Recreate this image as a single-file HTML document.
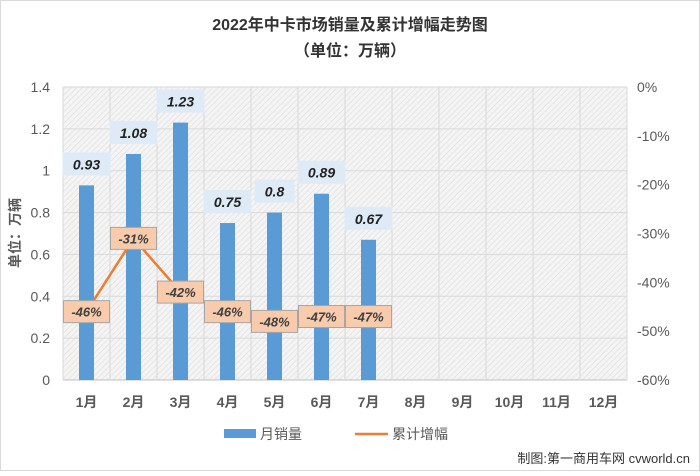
<!DOCTYPE html>
<html><head><meta charset="utf-8"><style>
body{margin:0;background:#fff;}
svg text{font-family:"Liberation Sans","Noto Sans CJK SC",sans-serif;}
</style></head><body>
<svg id="c" width="700" height="471" viewBox="0 0 700 471">
<defs>
<pattern id="hatch" width="4" height="4" patternUnits="userSpaceOnUse" patternTransform="rotate(45)">
<rect width="4" height="4" fill="#f4f4f4"/><line x1="0" y1="0" x2="0" y2="4" stroke="#dcdcdc" stroke-width="1.2"/>
</pattern>
</defs>
<rect x="0.5" y="0.5" width="699" height="470" fill="#fff" stroke="#d9d9d9"/>
<text x="350" y="30" text-anchor="middle" font-size="16" font-weight="bold" fill="#333">2022年中卡市场销量及累计增幅走势图</text>
<text x="350" y="56" text-anchor="middle" font-size="16" font-weight="bold" fill="#333">（单位：万辆）</text>
<rect x="63" y="87" width="564" height="293" fill="url(#hatch)"/>
<g id="grid"></g><g id="bars"></g><g id="line"></g><g id="labels"></g><g id="axes"></g>
<text transform="translate(20,233) rotate(-90)" text-anchor="middle" font-size="14" font-weight="bold" fill="#595959">单位：万辆</text>
<rect x="224" y="429" width="32" height="9" fill="#5b9bd5"/>
<text x="260" y="439" font-size="14" fill="#595959">月销量</text>
<line x1="355" y1="434" x2="388" y2="434" stroke="#ed7d31" stroke-width="2.5"/>
<text x="392" y="439" font-size="14" fill="#595959">累计增幅</text>
<text x="690" y="463" text-anchor="end" font-size="13" fill="#333">制图:第一商用车网 cvworld.cn</text>
</svg>
<script>
const categories=["1月","2月","3月","4月","5月","6月","7月","8月","9月","10月","11月","12月"];
const sales=[0.93,1.08,1.23,0.75,0.8,0.89,0.67];
const growth=[-46,-31,-42,-46,-48,-47,-47];
const leftTicks=[0,0.2,0.4,0.6,0.8,1,1.2,1.4];
const rightTicks=[0,-10,-20,-30,-40,-50,-60];
const NS="http://www.w3.org/2000/svg";
const X0=63,X1=627,Y0=380,Y1=87;
const bw=(X1-X0)/categories.length;
const xc=i=>X0+bw*(i+0.5);
const yL=v=>Y0-(v/1.4)*(Y0-Y1);
const yR=v=>Y1+(-v/60)*(Y0-Y1);
function mk(tag,attrs,parent,text){const e=document.createElementNS(NS,tag);for(const k in attrs)e.setAttribute(k,attrs[k]);if(text!==undefined)e.textContent=text;document.getElementById(parent).appendChild(e);return e;}
leftTicks.forEach(t=>{
 const g=mk('line',{x1:X0,x2:X1,y1:yL(t),y2:yL(t),stroke:t===0?'#bfbfbf':'#d9d9d9','stroke-width':1},'grid');
 
 
 const l=mk('text',{x:X0-13,y:yL(t)+5,'text-anchor':'end','font-size':14,fill:'#595959'},'axes',String(t));
 
 
});
for(let i=0;i<=categories.length;i++){
 const v=mk('line',{x1:X0+bw*i,x2:X0+bw*i,y1:Y1,y2:Y0,stroke:'#d9d9d9'},'grid');
 
 
}
rightTicks.forEach(t=>{
 const l=mk('text',{x:X1+10,y:yR(t)+5,'font-size':14,fill:'#595959'},'axes',t+'%');
 
 
});
categories.forEach((c,i)=>{
 const l=mk('text',{x:xc(i),y:407,'text-anchor':'middle','font-size':14,'font-weight':'bold',fill:'#595959'},'axes',c);
 
 
});
sales.forEach((v,i)=>{
 const b=mk('rect',{x:xc(i)-7.5,y:yL(v),width:15,height:Y0-yL(v),fill:'#5b9bd5'},'bars');
 
 
 const s=String(v);const w=s.length*8+16;
 const bg=mk('rect',{x:xc(i)-w/2,y:yL(v)-33,width:w,height:23,fill:'#deebf7'},'labels');
 
 
 const t=mk('text',{x:xc(i),y:yL(v)-16,'text-anchor':'middle','font-size':14,'font-weight':'bold','font-style':'italic',fill:'#222'},'labels',s);
 
 
});
const pts=growth.map((g,i)=>xc(i)+','+yR(g)).join(' ');
const pl=mk('polyline',{points:pts,fill:'none',stroke:'#ed7d31','stroke-width':2.5},'line');


growth.forEach((g,i)=>{
 const bx=mk('rect',{x:xc(i)-23,y:yR(g)-11,width:46,height:22,fill:'#f8cbad',stroke:'#a6a6a6'},'labels');
 
 
 const t=mk('text',{x:xc(i),y:yR(g)+5,'text-anchor':'middle','font-size':13,'font-style':'italic','font-weight':'bold',fill:'#404040'},'labels',g+'%');
 
 
});
</script>
</body></html>
